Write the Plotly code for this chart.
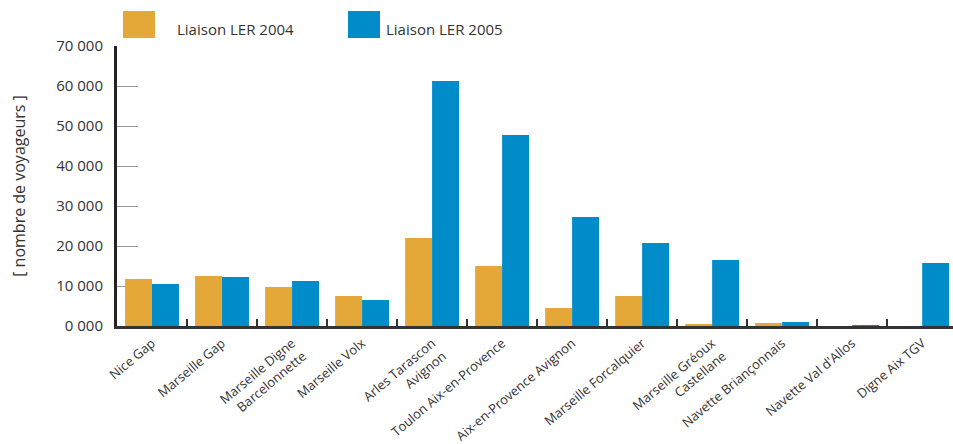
import plotly.graph_objects as go

categories = [
    "Nice Gap",
    "Marseille Gap",
    "Marseille Digne<br>Barcelonnette",
    "Marseille Volx",
    "Arles Tarascon<br>Avignon",
    "Toulon Aix-en-Provence",
    "Aix-en-Provence Avignon",
    "Marseille Forcalquier",
    "Marseille Gréoux<br>Castellane",
    "Navette Briançonnais",
    "Navette Val d'Allos",
    "Digne Aix TGV",
]
ler_2004 = [11750, 12500, 9750, 7500, 22000, 15000, 4500, 7500, 500, 750, 0, 0]
ler_2005 = [10500, 12250, 11250, 6500, 61250, 47750, 27250, 20750, 16500, 1000, 250, 15750]
y_tick_values = [0, 10000, 20000, 30000, 40000, 50000, 60000, 70000]
y_tick_labels = ["0 000", "10 000", "20 000", "30 000", "40 000", "50 000", "60 000", "70 000"]
series_names = ["Liaison LER 2004", "Liaison LER 2005"]

ORANGE = "#E4A839"
BLUE = "#008CC8"
TEXT = "#333333"
FONT = "Open Sans, sans-serif"

fig = go.Figure()
fig.add_trace(go.Bar(x=categories, y=ler_2004, name=series_names[0], marker=dict(color=ORANGE, line=dict(width=0))))
fig.add_trace(go.Bar(x=categories, y=ler_2005, name=series_names[1], marker=dict(color=BLUE, line=dict(width=0))))

L, R, T, B = 117, 953, 46, 326
W, H = R - L, B - T

def px_x(p):
    return (p - L) / W

def px_y(p):
    return (B - p) / H

shapes = [
    dict(type="rect", xref="paper", yref="paper", x0=px_x(123), x1=px_x(155), y0=px_y(38), y1=px_y(11),
         fillcolor=ORANGE, line=dict(width=0)),
    dict(type="rect", xref="paper", yref="paper", x0=px_x(348), x1=px_x(380), y0=px_y(38), y1=px_y(11),
         fillcolor=BLUE, line=dict(width=0)),
]
annotations = [
    dict(text=series_names[0], xref="paper", yref="paper", x=px_x(175), y=px_y(29), xanchor="left",
         yanchor="middle", showarrow=False, font=dict(family=FONT, size=15, color=TEXT)),
    dict(text=series_names[1], xref="paper", yref="paper", x=px_x(384), y=px_y(29), xanchor="left",
         yanchor="middle", showarrow=False, font=dict(family=FONT, size=15, color=TEXT)),
]

fig.update_layout(
    width=953, height=444,
    margin=dict(l=L, r=953 - R, t=T, b=444 - B, autoexpand=False),
    paper_bgcolor="white", plot_bgcolor="white",
    barmode="group", bargap=0.23, bargroupgap=0,
    showlegend=False,
    font=dict(family=FONT, size=14, color=TEXT),
    shapes=shapes, annotations=annotations,
    xaxis=dict(
        type="category", range=[-0.5, 11.44],
        tickangle=-40, tickson="boundaries", ticks="inside", ticklen=7, tickwidth=2, tickcolor="#333333",
        showline=True, linecolor="#333333", linewidth=2.5, showgrid=False, zeroline=False,
        ticklabelstandoff=2,
        tickfont=dict(family=FONT, size=13, color=TEXT), automargin=False,
    ),
    yaxis=dict(
        range=[0, 70000], tickmode="array", tickvals=y_tick_values, ticktext=y_tick_labels,
        ticks="inside", ticklen=21, tickwidth=1.2, tickcolor="#999999",
        showline=True, linecolor="#222222", linewidth=3, showgrid=False, zeroline=False,
        layer="below traces", ticklabelstandoff=8,
        tickfont=dict(family=FONT, size=15, color=TEXT), automargin=False,
        title=dict(text="[ nombre de voyageurs ]", standoff=27, font=dict(family=FONT, size=16, color=TEXT)),
    ),
)

fig.write_html("out.html")
